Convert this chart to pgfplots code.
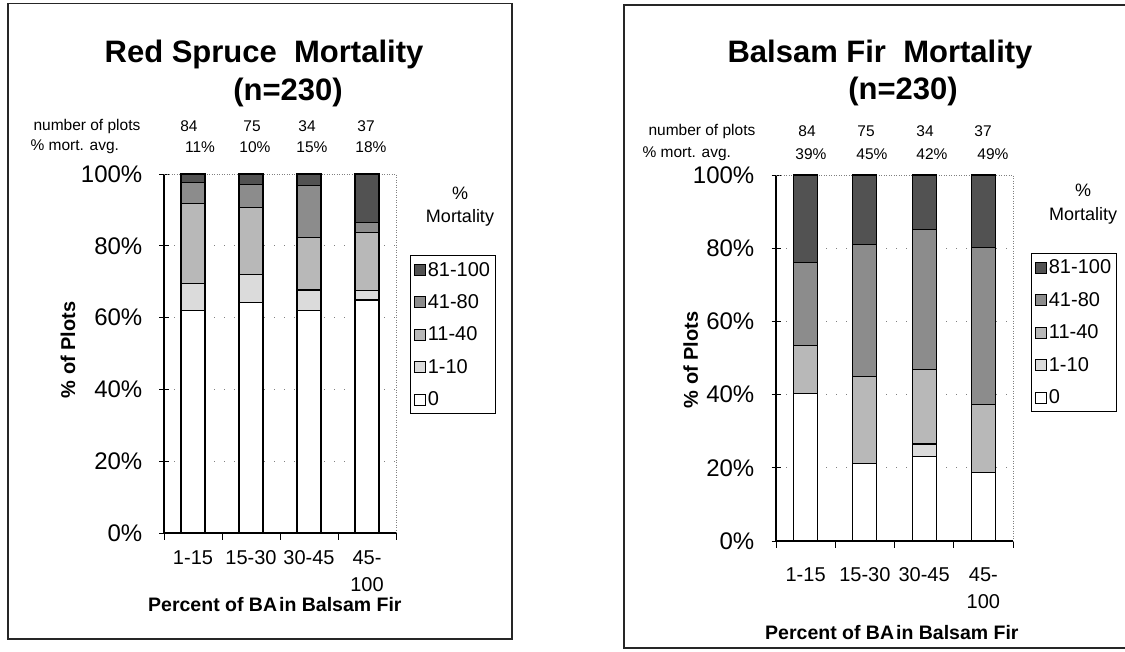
\documentclass[border=0pt]{standalone}
\usepackage{fontspec}
\setmainfont{Liberation Sans}
\usepackage{pgfplots}
\pgfplotsset{compat=1.18}

\definecolor{c0}{gray}{1}
\definecolor{c1}{gray}{0.86}
\definecolor{c2}{gray}{0.72}
\definecolor{c3}{gray}{0.55}
\definecolor{c4}{gray}{0.32}

\newcommand{\tfont}{\fontsize{31}{34}\selectfont\bfseries}
\newcommand{\hfont}{\fontsize{15.5}{18}\selectfont}
\newcommand{\lfont}{\fontsize{18}{20}\selectfont}
\newcommand{\yf}{\fontsize{24}{26}\selectfont}

\pgfplotsset{
  mort/.style={
    ybar stacked, bar width=24pt, scale only axis, clip=false,
    ymin=0, ymax=100, xmin=-0.5, xmax=3.5,
    axis line style={draw=none},
    ytick={0,20,40,60,80,100},
    yticklabels={0\%,20\%,40\%,60\%,80\%,100\%},
    yticklabel style={font=\yf, anchor=east, inner sep=0pt, xshift=-17pt},
    ytick pos=left,
    xtick={0,1,2,3},
    xticklabels={1-15,15-30,30-45,45-\\100},
    xticklabel style={font=\fontsize{20}{27}\selectfont, align=center, anchor=north, inner sep=0pt},
    major x tick style={draw=none},
    ytick style={black, line width=0.9pt},
    tick align=center, major tick length=9pt,
    ymajorgrids=true,
    major y grid style={gray, dash pattern=on 1pt off 9pt, line width=0.9pt},
    every axis plot/.append style={draw=black, line width=1.1pt},
    xlabel={Percent of BA\hspace{0.1em}in Balsam Fir},
    ylabel={\% of Plots},
    xlabel style={font=\fontsize{19.5}{22}\selectfont\bfseries, anchor=center},
    ylabel style={font=\fontsize{20}{22}\selectfont\bfseries, anchor=center},
    reverse legend,
    legend cell align=left,
    legend image code/.code={\draw[#1, draw=black, line width=0.9pt] (0pt,-5.5pt) rectangle (11pt,5.5pt);},
    legend style={anchor=north west, draw=black, line width=0.9pt,
      font=\fontsize{20}{22}\selectfont, inner xsep=4pt, inner ysep=5pt,
      row sep=14pt, nodes={inner sep=1.5pt}},
  }
}

\begin{document}
\begin{tikzpicture}
\useasboundingbox (0,0) rectangle (1125pt,-651pt);

% panel frames
\draw[line width=1.2pt, black!85] (8pt,-3.5pt) rectangle (512pt,-639pt);
\draw[line width=1.2pt, black!85] (624pt,-5pt) rectangle (1145pt,-648pt);

% ===== Left: Red Spruce =====
\node[font=\tfont] at (264pt,-54pt) {Red Spruce\ \ Mortality};
\node[font=\tfont] at (288pt,-92pt) {(n=230)};
\node[font=\hfont, anchor=west] at (30pt,-126pt) {number of plots};
\node[font=\hfont, anchor=west] at (27pt,-147pt) {\% mort. avg.};
\node[font=\hfont] at (189pt,-126pt) {84};
\node[font=\hfont] at (252pt,-126pt) {75};
\node[font=\hfont] at (307pt,-126pt) {34};
\node[font=\hfont] at (366pt,-126pt) {37};
\node[font=\hfont] at (200pt,-147pt) {11\%};
\node[font=\hfont] at (255pt,-147pt) {10\%};
\node[font=\hfont] at (312pt,-147pt) {15\%};
\node[font=\hfont] at (371pt,-147pt) {18\%};
\node[font=\lfont] at (460pt,-193pt) {\%};
\node[font=\lfont] at (460pt,-218pt) {Mortality};

\begin{axis}[mort,
  at={(164pt,-533pt)}, anchor=south west, width=232pt, height=359pt,
  xticklabel style={yshift=-13pt},
  xlabel style={at={(axis description cs:0.478,-0.2)}},
  ylabel style={at={(axis description cs:-0.414,0.51)}},
  legend style={at={(axis description cs:1.06,0.774)}},
]
\addplot[fill=c0] coordinates {(0,62.1) (1,64.3) (2,61.9) (3,64.9)};
\addplot[fill=c1] coordinates {(0,7.3) (1,7.8) (2,5.8) (3,2.6)};
\addplot[fill=c2] coordinates {(0,22.4) (1,18.5) (2,14.6) (3,16.3)};
\addplot[fill=c3] coordinates {(0,5.8) (1,6.6) (2,14.5) (3,2.7)};
\addplot[fill=c4] coordinates {(0,2.4) (1,2.8) (2,3.2) (3,13.5)};
\legend{0,1-10,11-40,41-80,81-100}
\draw[gray, dash pattern=on 1pt off 1.5pt, line width=0.9pt] (rel axis cs:0,1) -- (rel axis cs:1,1) -- (rel axis cs:1,0);
\draw[black, line width=1.1pt] (rel axis cs:0,1) -- (rel axis cs:0,0) -- (rel axis cs:1,0);
\draw[black, line width=0.9pt] (axis cs:-0.5,0) -- ([yshift=-7pt]axis cs:-0.5,0);
\draw[black, line width=0.9pt] (axis cs:0.5,0) -- ([yshift=-7pt]axis cs:0.5,0);
\draw[black, line width=0.9pt] (axis cs:1.5,0) -- ([yshift=-7pt]axis cs:1.5,0);
\draw[black, line width=0.9pt] (axis cs:2.5,0) -- ([yshift=-7pt]axis cs:2.5,0);
\draw[black, line width=0.9pt] (axis cs:3.5,0) -- ([yshift=-7pt]axis cs:3.5,0);
\end{axis}

% ===== Right: Balsam Fir =====
\node[font=\tfont] at (880pt,-54pt) {Balsam Fir\ \ Mortality};
\node[font=\tfont] at (903pt,-91pt) {(n=230)};
\node[font=\hfont, anchor=west] at (645pt,-131pt) {number of plots};
\node[font=\hfont, anchor=west] at (639pt,-154pt) {\% mort. avg.};
\node[font=\hfont] at (807pt,-131pt) {84};
\node[font=\hfont] at (866pt,-131pt) {75};
\node[font=\hfont] at (925pt,-131pt) {34};
\node[font=\hfont] at (983pt,-131pt) {37};
\node[font=\hfont] at (811pt,-154pt) {39\%};
\node[font=\hfont] at (872pt,-154pt) {45\%};
\node[font=\hfont] at (932pt,-154pt) {42\%};
\node[font=\hfont] at (993pt,-154pt) {49\%};
\node[font=\lfont] at (1083pt,-190pt) {\%};
\node[font=\lfont] at (1083pt,-216pt) {Mortality};

\begin{axis}[mort,
  at={(776pt,-541pt)}, anchor=south west, width=237pt, height=366pt,
  xticklabel style={yshift=-22pt},
  xlabel style={at={(axis description cs:0.489,-0.251)}},
  ylabel style={at={(axis description cs:-0.36,0.495)}},
  legend style={at={(axis description cs:1.076,0.787)}},
]
\addplot[fill=c0] coordinates {(0,40.2) (1,21.2) (2,23.2) (3,18.7)};
\addplot[fill=c1] coordinates {(0,0) (1,0) (2,3.3) (3,0)};
\addplot[fill=c2] coordinates {(0,13.1) (1,23.7) (2,20.4) (3,18.5)};
\addplot[fill=c3] coordinates {(0,22.7) (1,36.0) (2,38.1) (3,43.0)};
\addplot[fill=c4] coordinates {(0,24.0) (1,19.1) (2,15.0) (3,19.8)};
\legend{0,1-10,11-40,41-80,81-100}
\draw[gray, dash pattern=on 1pt off 1.5pt, line width=0.9pt] (rel axis cs:0,1) -- (rel axis cs:1,1) -- (rel axis cs:1,0);
\draw[black, line width=1.1pt] (rel axis cs:0,1) -- (rel axis cs:0,0) -- (rel axis cs:1,0);
\draw[black, line width=0.9pt] (axis cs:-0.5,0) -- ([yshift=-7pt]axis cs:-0.5,0);
\draw[black, line width=0.9pt] (axis cs:0.5,0) -- ([yshift=-7pt]axis cs:0.5,0);
\draw[black, line width=0.9pt] (axis cs:1.5,0) -- ([yshift=-7pt]axis cs:1.5,0);
\draw[black, line width=0.9pt] (axis cs:2.5,0) -- ([yshift=-7pt]axis cs:2.5,0);
\draw[black, line width=0.9pt] (axis cs:3.5,0) -- ([yshift=-7pt]axis cs:3.5,0);
\end{axis}
\end{tikzpicture}
\end{document}
